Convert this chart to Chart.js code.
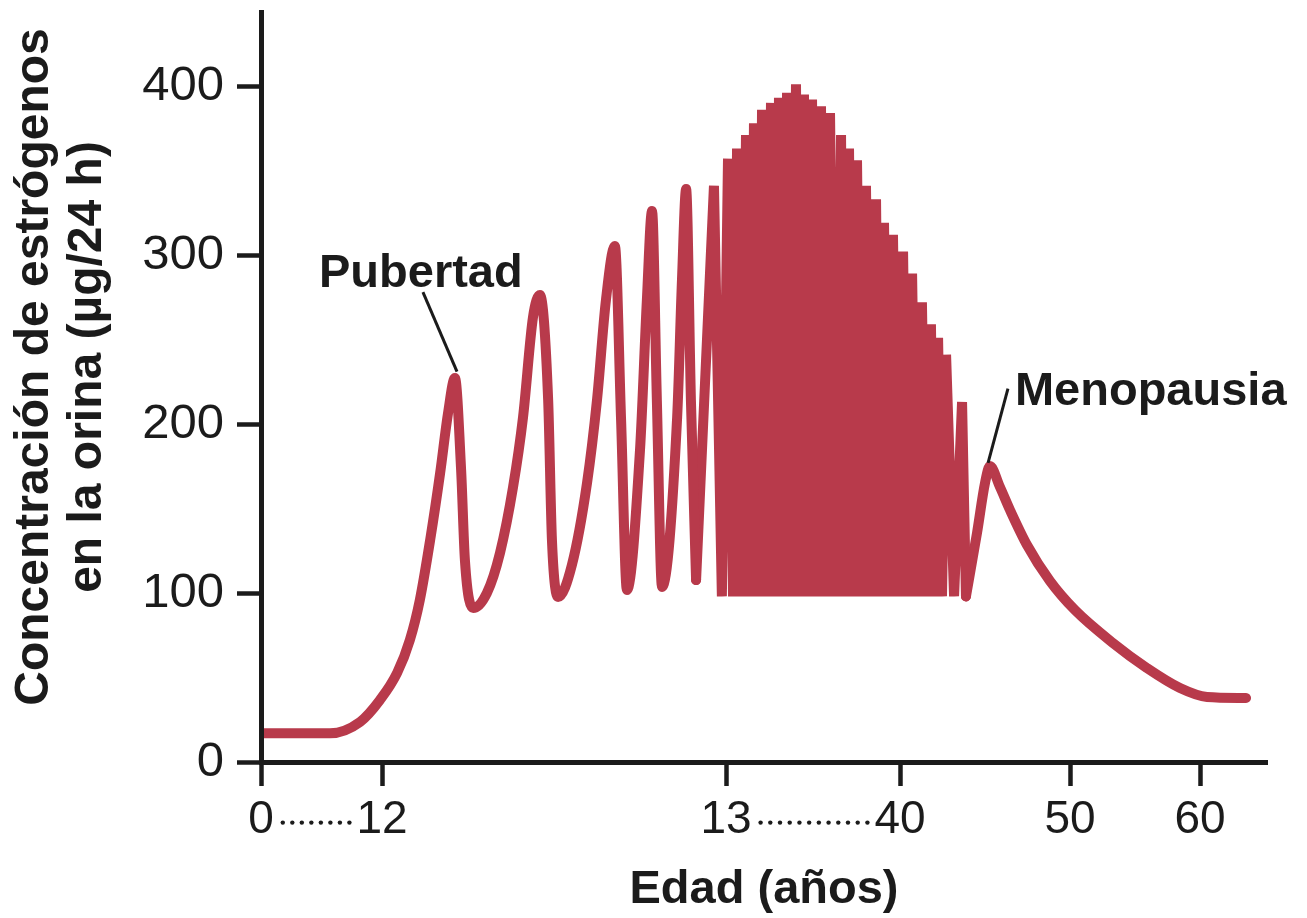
<!DOCTYPE html>
<html lang="es">
<head>
<meta charset="utf-8">
<title>Concentración de estrógenos en la orina</title>
<script src="https://cdn.jsdelivr.net/npm/chart.js@4.4.1/dist/chart.umd.min.js"></script>
<style>
  html, body { margin: 0; padding: 0; background: #fff; }
  #wrap { width: 1307px; height: 918px; position: relative; }
</style>
</head>
<body>
<div id="wrap"><canvas id="chart"></canvas></div>
<script>
// values: age in years, estrogens in µg/24 h
const yTicks = [0, 100, 200, 300, 400];
const ageTicks = [0, 12, 13, 40, 50, 60];
const dottedGaps = [[0, 12], [13, 40]];

// childhood + first (irregular) cycles of puberty
const pubertyAge = [0, 6.84, 9.82, 11.80, 12.044, 12.081, 12.110, 12.140, 12.169, 12.192, 12.212,
  12.230, 12.241, 12.265, 12.305, 12.343, 12.381, 12.410, 12.439, 12.459,
  12.483, 12.494, 12.512, 12.552, 12.596, 12.625, 12.651, 12.677,
  12.695, 12.712, 12.750, 12.770, 12.785, 12.799, 12.814, 12.858, 12.872, 12.884, 12.898, 12.913];
const pubertyLevel = [17, 17, 23.7, 36.7, 52.7, 72.2, 95.9, 131.4, 171, 206.5, 227.2,
  172.8, 119.5, 91.1, 100, 123.7, 162.7, 204.1, 263.3, 276.3,
  214.2, 131.4, 97.6, 116.6, 165.1, 214.2, 273.4, 305.3,
  202.4, 101.8, 184.6, 273.4, 326, 214.2, 103.6, 204.1, 285.2, 339, 214.2, 107.7];

// regular monthly cycles (one spike per cycle)
const cycleAge = [12.913, 12.965, 12.988, 13.31, 14.09, 14.71, 15.41, 16.10, 16.72, 17.34, 17.97,
  18.59, 19.28, 19.98, 20.60, 21.22, 21.84, 22.47, 23.16, 23.86, 24.48, 25.10, 25.72,
  26.35, 27.04, 27.74, 28.44, 29.14, 29.99, 30.85, 31.47, 32.09, 32.71, 33.33, 34.03,
  34.72, 35.50, 36.28, 36.90, 37.52, 38.22, 38.91, 39.69, 40.18, 40.44, 40.71, 41.00,
  41.29, 41.56, 41.82, 42.03, 42.24, 42.47, 42.71, 43.18, 43.65, 43.88];
const cycleLevel = [107.7, 341, 98, 357, 98, 363, 98, 371, 98, 378, 98,
  386, 98, 390, 98, 393, 98, 396, 98, 401, 98, 395, 98,
  392, 98, 388, 98, 384, 98, 371, 98, 363, 98, 356, 98,
  341, 98, 333, 98, 319, 98, 312, 98, 302, 98, 289, 98,
  272, 98, 259, 98, 251, 98, 241, 98, 213, 98];

// menopause and after
const menopauseAge = [43.88, 44.53, 45.00, 45.29, 45.88, 46.47, 47.47, 48.82, 50.38, 53.31, 55.92, 58.46, 60.54, 63.54];
const menopauseLevel = [98, 135.5, 165.1, 175.1, 162.7, 149.1, 128.4, 107.1, 89.9, 70.4, 55.6, 43.8, 38.5, 37.9];

const notes = [
  { text: 'Pubertad', at: [12.113, 281], align: 'center', from: [12.119, 278], to: [12.218, 231] },
  { text: 'Menopausia', at: [46.76, 211], align: 'left', from: [46.35, 221], to: [45.18, 177] }
];
const yTitle = ['Concentración de estrógenos', 'en la orina (µg/24 h)'];

const ink = '#1b1b1b';
const red = '#b83a4b';
const family = '"Liberation Sans", Arial, Helvetica, sans-serif';

// x axis with breaks: each stretch of ages gets its own share of the width
class BrokenAgeScale extends Chart.LinearScale {
  static id = 'brokenAge';
  static defaults = {};
  toDecimal(v) {
    const b = this.options.breaks;
    for (let i = 1; i < b.length; i++) {
      if (v <= b[i][0] || i === b.length - 1) {
        const [a0, f0] = b[i - 1], [a1, f1] = b[i];
        return f0 + (v - a0) / (a1 - a0) * (f1 - f0);
      }
    }
    return 0;
  }
  getPixelForValue(v) {
    if (v === null || v === undefined) return NaN;
    return this.getPixelForDecimal(this.toDecimal(v));
  }
  getValueForPixel(p) {
    const d = this.getDecimalForPixel(p);
    const b = this.options.breaks;
    for (let i = 1; i < b.length; i++) {
      if (d <= b[i][1] || i === b.length - 1) {
        const [a0, f0] = b[i - 1], [a1, f1] = b[i];
        return a0 + (d - f0) / (f1 - f0) * (a1 - a0);
      }
    }
    return 0;
  }
}
Chart.register(BrokenAgeScale);

const toPoints = (xs, ys) => xs.map((a, i) => ({ x: a, y: ys[i] }));

const extras = {
  id: 'extras',
  afterDraw(chart) {
    const { ctx, chartArea, scales: { x, y } } = chart;
    ctx.save();
    ctx.fillStyle = ink;
    ctx.strokeStyle = ink;

    // dotted runs between broken tick labels
    ctx.font = '46px ' + family;
    const mid = x.top + 24 + 7 + 46 * 1.2 / 2 + 2;
    dottedGaps.forEach(([a, b]) => {
      const x0 = x.getPixelForValue(a) + ctx.measureText(String(a)).width / 2 + 9;
      const x1 = x.getPixelForValue(b) - ctx.measureText(String(b)).width / 2 - 7;
      const n = Math.max(2, Math.round((x1 - x0) / 9.6) + 1);
      for (let i = 0; i < n; i++) {
        ctx.beginPath();
        ctx.arc(x0 + (x1 - x0) * i / (n - 1), mid, 2.2, 0, Math.PI * 2);
        ctx.fill();
      }
    });

    // labels with leader lines
    ctx.font = 'bold 47px ' + family;
    ctx.lineWidth = 3;
    notes.forEach(n => {
      ctx.textAlign = n.align;
      ctx.textBaseline = 'alphabetic';
      ctx.fillText(n.text, x.getPixelForValue(n.at[0]), y.getPixelForValue(n.at[1]));
      ctx.beginPath();
      ctx.moveTo(x.getPixelForValue(n.from[0]), y.getPixelForValue(n.from[1]));
      ctx.lineTo(x.getPixelForValue(n.to[0]), y.getPixelForValue(n.to[1]));
      ctx.stroke();
    });

    // y axis title, two rotated lines
    ctx.font = 'bold 48px ' + family;
    const cy = (chartArea.top + chartArea.bottom) / 2 - 20;
    ctx.textAlign = 'center';
    ctx.textBaseline = 'alphabetic';
    [chartArea.left - 213, chartArea.left - 160].forEach((bx, i) => {
      ctx.save();
      ctx.translate(bx, cy);
      ctx.rotate(-Math.PI / 2);
      ctx.fillText(yTitle[i], 0, 0);
      ctx.restore();
    });
    ctx.restore();
  }
};

Chart.defaults.font.family = family;
Chart.defaults.color = ink;

new Chart(document.getElementById('chart'), {
  type: 'line',
  data: {
    datasets: [
      {
        data: toPoints(pubertyAge, pubertyLevel),
        borderColor: red, borderWidth: 10, pointRadius: 0,
        tension: 0.4, cubicInterpolationMode: 'monotone',
        borderJoinStyle: 'round', borderCapStyle: 'round', fill: false
      },
      {
        data: toPoints(cycleAge, cycleLevel),
        borderColor: red, borderWidth: 10, pointRadius: 0,
        tension: 0, borderJoinStyle: 'bevel', borderCapStyle: 'round', fill: false
      },
      {
        data: toPoints(menopauseAge, menopauseLevel),
        borderColor: red, borderWidth: 10, pointRadius: 0,
        tension: 0.4, cubicInterpolationMode: 'monotone',
        borderJoinStyle: 'round', borderCapStyle: 'round', fill: false
      }
    ]
  },
  options: {
    responsive: true,
    maintainAspectRatio: false,
    animation: false,
    events: [],
    layout: { padding: { top: 12, right: 40, left: 0, bottom: 0 } },
    plugins: { legend: { display: false }, tooltip: { enabled: false } },
    scales: {
      x: {
        type: 'brokenAge',
        min: 0,
        max: 65.15,
        breaks: [[0, 0], [12, 0.12028], [13, 0.46223], [40, 0.63519], [50, 0.80418], [60, 0.93340], [65.15, 1]],
        afterBuildTicks: s => { s.ticks = ageTicks.map(v => ({ value: v })); },
        afterFit: s => { s.height = 156; s.paddingLeft = 0; s.paddingRight = 0; },
        ticks: {
          autoSkip: false, maxRotation: 0, padding: 7, color: ink,
          font: { size: 46 },
          callback: v => String(v)
        },
        grid: { drawOnChartArea: false, drawTicks: true, tickLength: 24, tickWidth: 4.5, tickColor: ink },
        border: { display: true, width: 5, color: ink, z: 1 },
        title: { display: true, text: 'Edad (años)', color: ink, font: { size: 47, weight: 'bold' }, padding: { top: 0, bottom: 0 } }
      },
      y: {
        min: 0,
        max: 443.8,
        afterBuildTicks: s => { s.ticks = yTicks.map(v => ({ value: v })); },
        afterFit: s => { s.width = 261; s.paddingTop = 0; s.paddingBottom = 0; },
        ticks: { padding: 13, color: ink, font: { size: 49 } },
        grid: { drawOnChartArea: false, drawTicks: true, tickLength: 24, tickWidth: 4.5, tickColor: ink },
        border: { display: true, width: 5, color: ink, z: 1 }
      }
    }
  },
  plugins: [extras]
});
</script>
</body>
</html>
